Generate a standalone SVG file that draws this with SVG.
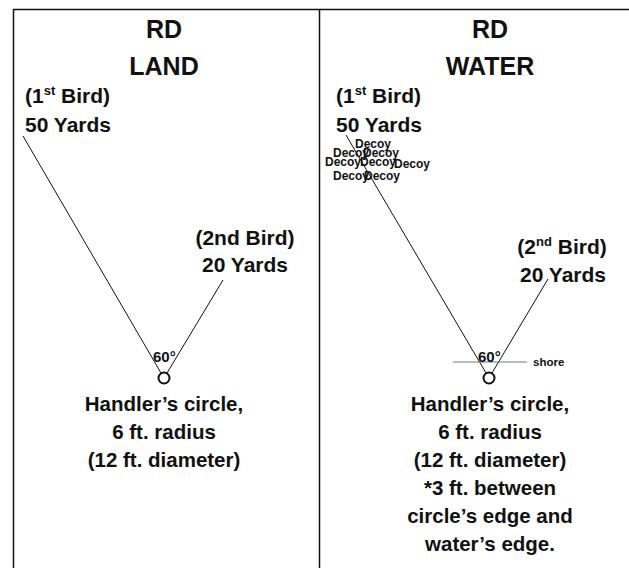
<svg xmlns="http://www.w3.org/2000/svg" width="629" height="568" viewBox="0 0 629 568">
<style>
text{font-family:"Liberation Sans",Arial,sans-serif;font-weight:bold;fill:#111}
.t{font-size:25px;text-anchor:middle}
.b{font-size:21px}
.c{font-size:21px;text-anchor:middle}
.m{font-size:20.5px;text-anchor:middle}
.d{font-size:12px}
.s{font-size:15px}
.ln{stroke:#111;stroke-width:1;fill:none}
.fr{stroke:#111;stroke-width:1.5;fill:none}
</style>
<rect width="629" height="568" fill="#fff"/>
<g id="frame">
<path class="fr" d="M13.5 568V9.5H629M319.5 9.5V568"/>
</g>
<g id="connectors">
<line class="ln" x1="23" y1="136" x2="161" y2="373"/>
<line class="ln" x1="223" y1="280" x2="167" y2="373"/>
<line class="ln" x1="346" y1="135" x2="486" y2="373"/>
<line class="ln" x1="548" y1="279" x2="492" y2="373"/>
<line x1="453" y1="362" x2="527" y2="362" stroke="#777" stroke-width="1.2"/>
</g>
<g id="land">
<text class="t" x="164" y="38">RD</text>
<text class="t" x="164" y="75">LAND</text>
<text class="b" x="25" y="103">(1<tspan font-size="13" dy="-8">st</tspan><tspan dy="8"> Bird)</tspan></text>
<text class="b" x="25" y="132">50 Yards</text>
<text class="c" x="245" y="245">(2nd Bird)</text>
<text class="c" x="245" y="272">20 Yards</text>
<text class="s" x="153" y="362">60°</text>
<circle cx="164" cy="378" r="5.5" fill="#fff" stroke="#111" stroke-width="2"/>
<text class="m" x="164" y="411">Handler’s circle,</text>
<text class="m" x="164" y="439">6 ft. radius</text>
<text class="m" x="164" y="467">(12 ft. diameter)</text>
</g>
<g id="water">
<text class="t" x="490" y="38">RD</text>
<text class="t" x="490" y="75">WATER</text>
<text class="b" x="336" y="103">(1<tspan font-size="13" dy="-8">st</tspan><tspan dy="8"> Bird)</tspan></text>
<text class="b" x="336" y="132">50 Yards</text>
<text class="d" x="355" y="148">Decoy</text>
<text class="d" x="333" y="157">Decoy</text>
<text class="d" x="363" y="157">Decoy</text>
<text class="d" x="325" y="166">Decoy</text>
<text class="d" x="360" y="166">Decoy</text>
<text class="d" x="394" y="168">Decoy</text>
<text class="d" x="333" y="180">Decoy</text>
<text class="d" x="364" y="180">Decoy</text>
<text class="c" x="562" y="254">(2<tspan font-size="13" dy="-8">nd</tspan><tspan dy="8"> Bird)</tspan></text>
<text class="c" x="563" y="282">20 Yards</text>
<text class="s" x="478" y="362">60°</text>
<text font-size="11.5" x="533" y="366">shore</text>
<circle cx="489" cy="378" r="5.5" fill="#fff" stroke="#111" stroke-width="2"/>
<text class="m" x="490" y="411">Handler’s circle,</text>
<text class="m" x="490" y="439">6 ft. radius</text>
<text class="m" x="490" y="467">(12 ft. diameter)</text>
<text class="m" x="490" y="495">*3 ft. between</text>
<text class="m" x="490" y="523">circle’s edge and</text>
<text class="m" x="490" y="551">water’s edge.</text>
</g>
</svg>
